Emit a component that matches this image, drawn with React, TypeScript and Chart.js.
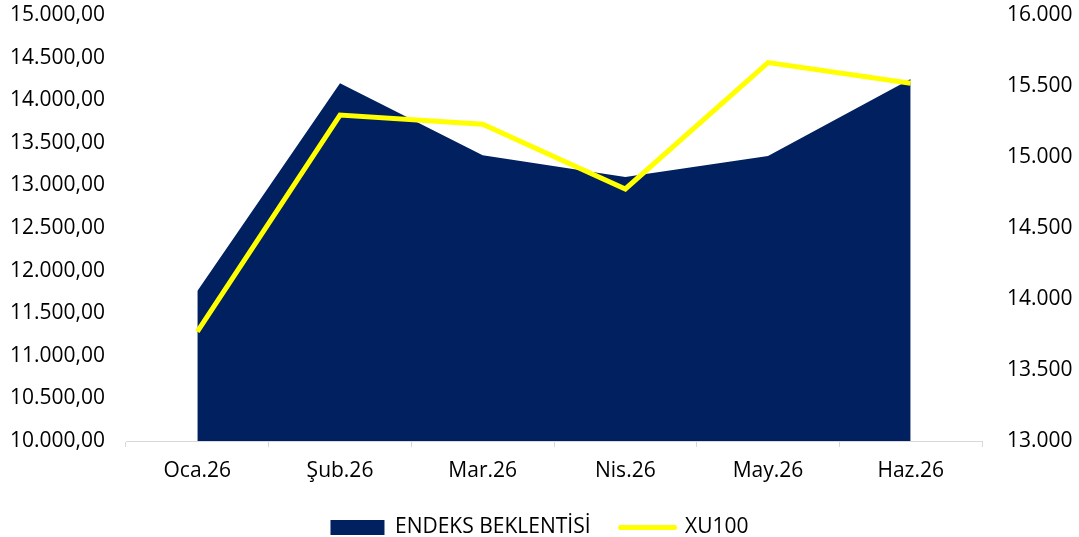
import React, { useEffect, useRef } from "react";
import { Chart, registerables } from "chart.js";

Chart.register(...registerables);

const categories = ["Oca.26", "Şub.26", "Mar.26", "Nis.26", "May.26", "Haz.26"];
const endeksBeklentisi = [11760, 14200, 13355, 13100, 13345, 14250];
const xu100 = [13770, 15295, 15230, 14775, 15665, 15520];
const leftTicks = { min: 10000, max: 15000, step: 500 };
const rightTicks = { min: 13000, max: 16000, step: 500 };

const FONT = "'Open Sans', 'Noto Sans', sans-serif";
const NAVY = "#002060";
const YELLOW = "#FFFF00";
const AXIS_GRAY = "#D9D9D9";

const W = 1079;
const H = 537;
const PLOT_LEFT = 126;
const PLOT_RIGHT = 982;
const PAD_TOP = 15;
const PLOT_BOTTOM = 441;
const PAD_BOTTOM = -11;

function thousands(v: number): string {
  return Math.round(v)
    .toString()
    .replace(/\B(?=(\d{3})+(?!\d))/g, ".");
}

export default function App() {
  const ref = useRef<HTMLCanvasElement | null>(null);

  useEffect(() => {
    if (!ref.current) return;
    const chart = new Chart(ref.current, {
      type: "line",
      data: {
        labels: categories,
        datasets: [
          {
            label: "ENDEKS BEKLENTİSİ",
            data: endeksBeklentisi,
            yAxisID: "y",
            fill: "start",
            backgroundColor: NAVY,
            borderColor: NAVY,
            borderWidth: 0,
            pointRadius: 0,
            tension: 0,
            order: 2,
          },
          {
            label: "XU100",
            data: xu100,
            yAxisID: "y1",
            fill: false,
            borderColor: YELLOW,
            backgroundColor: YELLOW,
            borderWidth: 5,
            pointRadius: 0,
            tension: 0,
            order: 1,
          },
        ],
      },
      options: {
        responsive: false,
        animation: false,
        maintainAspectRatio: false,
        layout: { padding: { top: PAD_TOP, left: 0, right: 0, bottom: PAD_BOTTOM } },
        plugins: {
          tooltip: { enabled: false },
          legend: {
            position: "bottom",
            labels: {
              usePointStyle: true,
              pointStyleWidth: 54,
              boxHeight: 15,
              padding: 30,
              color: "#000",
              font: { family: FONT, size: 21 },
              generateLabels: () => [
                {
                  text: "ENDEKS BEKLENTİSİ",
                  fillStyle: NAVY,
                  strokeStyle: NAVY,
                  lineWidth: 0,
                  pointStyle: "rect",
                  datasetIndex: 0,
                  hidden: false,
                  fontColor: "#000",
                },
                {
                  text: "XU100",
                  fillStyle: YELLOW,
                  strokeStyle: YELLOW,
                  lineWidth: 5,
                  lineCap: "round",
                  pointStyle: "line",
                  datasetIndex: 1,
                  hidden: false,
                  fontColor: "#000",
                },
              ],
            },
          },
        },
        scales: {
          x: {
            type: "category",
            offset: true,
            grid: {
              display: true,
              offset: true,
              drawOnChartArea: false,
              drawTicks: true,
              tickLength: 6,
              color: AXIS_GRAY,
            },
            border: { display: true, color: AXIS_GRAY, width: 1 },
            ticks: {
              color: "#000",
              padding: 11,
              maxRotation: 0,
              font: { family: FONT, size: 21 },
            },
            afterFit: (scale: any) => {
              const legendH = scale.chart.legend ? scale.chart.legend.height : 0;
              scale.height = H - PAD_BOTTOM - legendH - PLOT_BOTTOM;
            },
          },
          y: {
            type: "linear",
            position: "left",
            min: leftTicks.min,
            max: leftTicks.max,
            grid: { display: false, drawTicks: true, tickLength: 21 },
            border: { display: false },
            ticks: {
              stepSize: leftTicks.step,
              color: "#000",
              padding: 0,
              font: { family: FONT, size: 21 },
              callback: (v: any) => thousands(Number(v)) + ",00",
            },
            afterFit: (scale: any) => {
              scale.width = PLOT_LEFT;
            },
          },
          y1: {
            type: "linear",
            position: "right",
            min: rightTicks.min,
            max: rightTicks.max,
            grid: { display: false, drawTicks: true, tickLength: 25 },
            border: { display: false },
            ticks: {
              stepSize: rightTicks.step,
              color: "#000",
              padding: 0,
              font: { family: FONT, size: 21 },
              callback: (v: any) => thousands(Number(v)),
            },
            afterFit: (scale: any) => {
              scale.width = W - PLOT_RIGHT;
            },
          },
        },
      },
    } as any);
    return () => chart.destroy();
  }, []);

  return (
    <div style={{ position: "absolute", left: 0, top: 0, width: W, height: H, background: "#fff" }}>
      <canvas ref={ref} width={W} height={H} style={{ display: "block", width: W, height: H }} />
    </div>
  );
}
